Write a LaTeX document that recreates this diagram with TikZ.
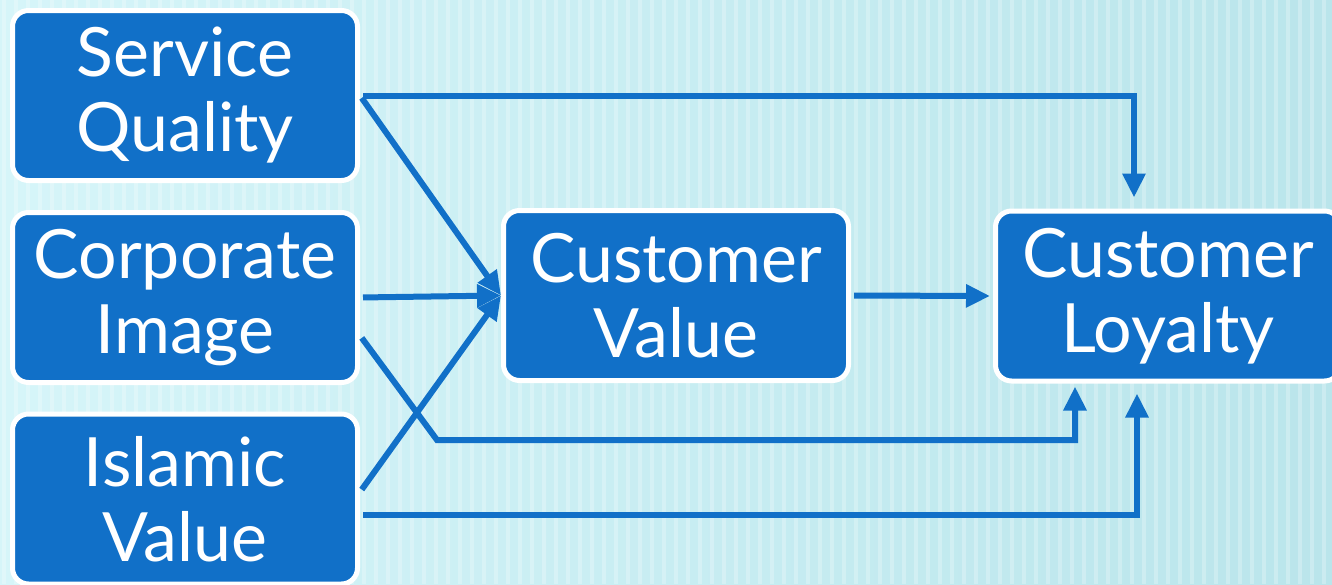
\documentclass[tikz,border=0pt]{standalone}
\usepackage{fontspec}
\setmainfont{Lato}
\usetikzlibrary{arrows.meta}
\definecolor{boxblue}{RGB}{17,112,200}
\definecolor{bgleft}{RGB}{214,245,249}
\definecolor{bgright}{RGB}{186,229,235}

\begin{document}
\begin{tikzpicture}[x=0.5pt, y=-0.5pt,
  box/.style={draw=white, line width=2.5pt, fill=boxblue, rounded corners=8pt,
    minimum width=172.5pt, minimum height=85pt, inner sep=0pt, align=center,
    text=white, font=\fontsize{34}{37.5}\selectfont},
  link/.style={draw=boxblue, line width=3pt, shorten <=1.5pt,
    -{Triangle[length=12pt,width=11pt]}}]

  % background
  \useasboundingbox (0,0) rectangle (1332,584);
  \clip (0,0) rectangle (1332,584);
  \shade[left color=bgleft, right color=bgright] (0,0) rectangle (1332,584);
  \foreach \x in {4,16,...,1332} {
    \draw[white, opacity=0.25, line width=2pt] (\x,0) -- (\x,584);
  }

  % boxes
  \node[box] (sq) at (185,95.5) {Service\\Quality};
  \node[box] (ci) at (185,297.5) {Corporate\\Image};
  \node[box] (iv) at (185,499) {Islamic\\Value};
  \node[box] (cv) at (676,295.5) {Customer\\Value};
  \node[box] (cl) at (1168,296) {Customer\\Loyalty};

  % links
  \coordinate (bend) at (437,440);
  \draw[link] (sq.east) -| ([xshift=-17pt,yshift=5.5pt]cl.north);
  \draw[link] (sq.east) -- (cv.west);
  \draw[link] (ci.east) -- (cv.west);
  \draw[link] ([yshift=-19pt]ci.east) -- (bend) -| ([xshift=-46.5pt,yshift=-1.5pt]cl.south);
  \draw[link] ([yshift=3.5pt]iv.east) -- (cv.west);
  \draw[link] ([yshift=-8pt]iv.east) -| ([xshift=-15.5pt,yshift=-5pt]cl.south);
  \draw[link, shorten >=1.5pt] (cv.east) -- (cl.west);

\end{tikzpicture}
\end{document}
